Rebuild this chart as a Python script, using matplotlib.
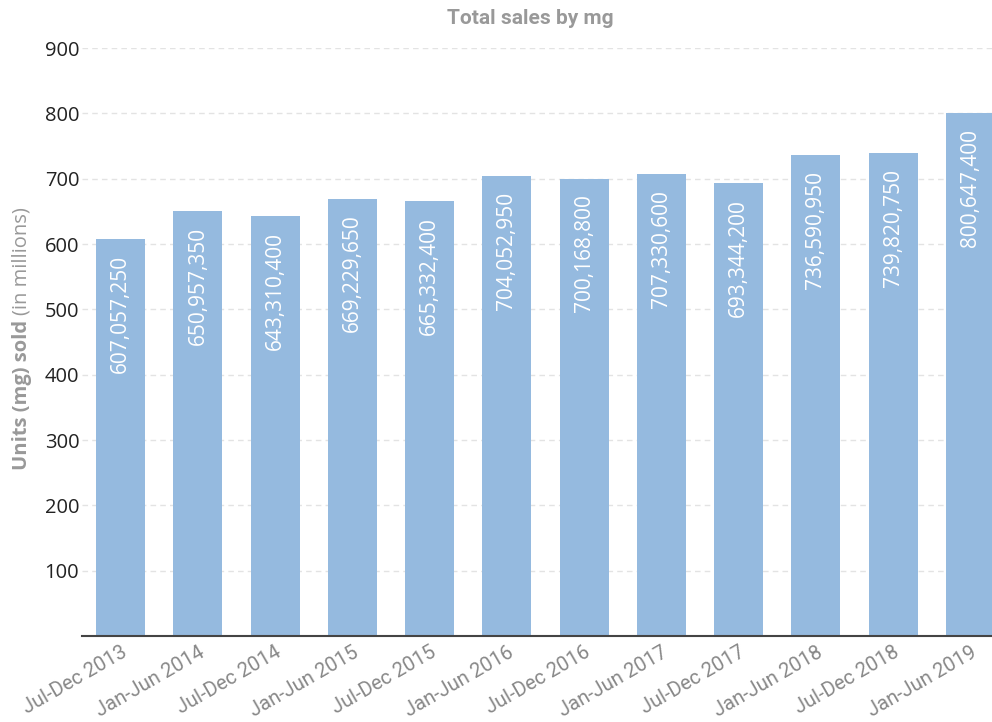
import matplotlib.pyplot as plt
import numpy as np

periods = ["Jul-Dec 2013", "Jan-Jun 2014", "Jul-Dec 2014", "Jan-Jun 2015",
           "Jul-Dec 2015", "Jan-Jun 2016", "Jul-Dec 2016", "Jan-Jun 2017",
           "Jul-Dec 2017", "Jan-Jun 2018", "Jul-Dec 2018", "Jan-Jun 2019"]
units = [607057250, 650957350, 643310400, 669229650, 665332400, 704052950,
         700168800, 707330600, 693344200, 736590950, 739820750, 800647400]
yticks = [100, 200, 300, 400, 500, 600, 700, 800, 900]

plt.rcParams['font.family'] = ['Open Sans', 'DejaVu Sans']

fig = plt.figure(figsize=(9.92, 7.22), dpi=100)
# axes run a little past the right edge of the figure, as in the original
ax = fig.add_axes([82 / 992, 1 - 636 / 722, 927 / 992, 588 / 722])

x = np.arange(len(periods))
vals = np.array(units) / 1e6
ax.bar(x, vals, width=0.635, color="#95badf", zorder=2)

for xi, v, u in zip(x, vals, units):
    ax.annotate(f"{u:,}", (xi, v), xytext=(0, -11.5), textcoords="offset points",
                rotation=90, ha="center", va="top", color="white", fontsize=15)

ax.set_xlim(-0.5, len(periods) - 0.5)
ax.set_ylim(0, 900)
ax.set_yticks(yticks)
ax.set_yticklabels([str(t) for t in yticks], fontsize=14.5, color="#222222")
ax.yaxis.grid(True, linestyle=(0, (4, 3)), color="#e3e3e3", linewidth=1, zorder=0)
ax.tick_params(axis="y", length=0, pad=2)
ax.set_xticks(x)
ax.set_xticklabels(periods, rotation=30, ha="right", va="top", rotation_mode="anchor",
                   fontsize=14.5, color="#888888", family=["Roboto", "DejaVu Sans"])
ax.tick_params(axis="x", length=0, pad=5)
for s in ["top", "right", "left"]:
    ax.spines[s].set_visible(False)
ax.spines["bottom"].set_color("#444444")
ax.spines["bottom"].set_linewidth(1.5)

fig.text(530 / 992, 1 - 18 / 722, "Total sales by mg", ha="center", va="center",
         fontsize=15, fontweight="bold", color="#999999", family=["Roboto", "DejaVu Sans"])

t1 = fig.text(22 / 992, 1 - 470 / 722, "Units (mg) sold", rotation=90, ha="center",
              va="bottom", fontsize=14.5, fontweight="bold", color="#999999")
fig.canvas.draw()
bb = t1.get_window_extent()
fig.text(22 / 992, (bb.y1 + 5) / 722, "(in millions)", rotation=90, ha="center",
         va="bottom", fontsize=14.5, color="#999999")

fig.savefig("out.png")
